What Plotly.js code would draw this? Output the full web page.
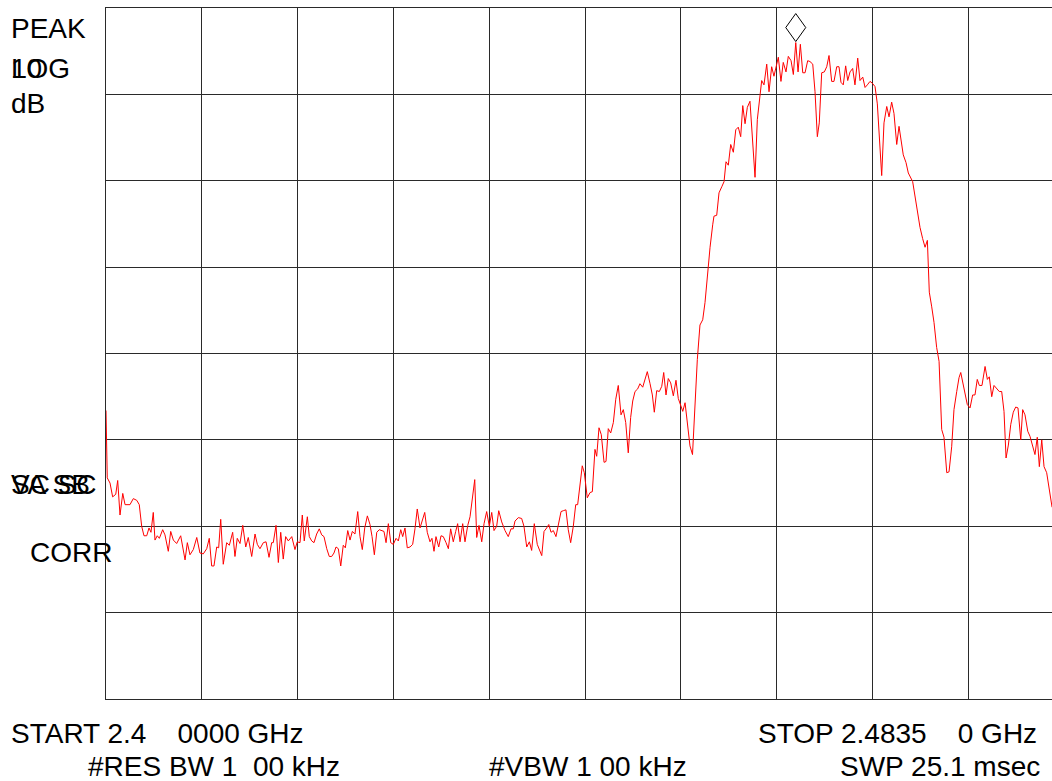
<!DOCTYPE html>
<html>
<head>
<meta charset="utf-8">
<script src="https://cdn.plot.ly/plotly-3.0.1.min.js"></script>
<style>
  html, body { margin: 0; padding: 0; background: #fff; overflow: hidden; }
  #plot { width: 1064px; height: 781px; }
</style>
</head>
<body>
<div id="plot"></div>
<script>
// Sweep: 2.4000 GHz to 2.4835 GHz, reference level at top, 10 dB/div
const startMHz = 2400.0;
const stopMHz = 2483.5;
const refLevelDb = 0;
const dbPerDiv = 10;
const numDivX = 10;
const numDivY = 8;

// Trace samples: frequency (MHz) and level (dB)
const freqMHz = [
  2400.00, 2400.11, 2400.35, 2400.58, 2400.85, 2401.02, 2401.22, 2401.46, 2401.66, 2402.09,
  2402.38, 2402.68, 2402.90, 2403.11, 2403.31, 2403.55, 2403.75, 2403.92, 2404.12, 2404.27,
  2404.47, 2404.65, 2404.94, 2405.14, 2405.43, 2405.64, 2405.87, 2406.16, 2406.51, 2406.89,
  2407.09, 2407.32, 2407.61, 2407.91, 2408.19, 2408.48, 2408.78, 2409.00, 2409.21, 2409.41,
  2409.65, 2409.82, 2410.00, 2410.22, 2410.52, 2410.75, 2411.04, 2411.24, 2411.44, 2411.68,
  2411.92, 2412.18, 2412.40, 2412.70, 2412.99, 2413.19, 2413.42, 2413.71, 2413.95, 2414.21,
  2414.44, 2414.58, 2414.82, 2415.02, 2415.23, 2415.45, 2415.66, 2415.89, 2416.19, 2416.47,
  2416.67, 2416.91, 2417.11, 2417.28, 2417.55, 2417.72, 2417.93, 2418.13, 2418.36, 2418.59,
  2418.80, 2419.00, 2419.24, 2419.46, 2419.67, 2419.87, 2420.05, 2420.25, 2420.46, 2420.68,
  2420.86, 2421.07, 2421.27, 2421.47, 2421.70, 2421.94, 2422.14, 2422.34, 2422.55, 2422.78,
  2423.01, 2423.19, 2423.39, 2423.60, 2423.82, 2424.06, 2424.23, 2424.41, 2424.61, 2424.82,
  2425.04, 2425.28, 2425.48, 2425.69, 2425.86, 2426.06, 2426.26, 2426.50, 2426.73, 2426.93,
  2427.13, 2427.37, 2427.57, 2427.78, 2428.00, 2428.24, 2428.41, 2428.59, 2428.76, 2429.00,
  2429.20, 2429.40, 2429.64, 2429.84, 2430.04, 2430.27, 2430.48, 2430.65, 2430.86, 2431.09,
  2431.29, 2431.53, 2431.73, 2431.93, 2432.14, 2432.31, 2432.51, 2432.75, 2432.95, 2433.18,
  2433.41, 2433.62, 2433.82, 2434.05, 2434.23, 2434.49, 2434.78, 2435.06, 2435.30, 2435.50,
  2435.65, 2435.94, 2436.23, 2436.43, 2436.67, 2436.90, 2437.10, 2437.33, 2437.59, 2437.98,
  2438.18, 2438.41, 2438.59, 2438.79, 2438.99, 2439.22, 2439.48, 2439.66, 2439.86, 2440.09,
  2440.29, 2440.50, 2440.73, 2440.94, 2441.11, 2441.31, 2441.51, 2441.69, 2441.95, 2442.19,
  2442.39, 2442.62, 2442.77, 2442.97, 2443.17, 2443.41, 2443.58, 2443.78, 2443.99, 2444.22,
  2444.43, 2444.65, 2444.89, 2445.09, 2445.30, 2445.52, 2445.73, 2445.91, 2446.11, 2446.34,
  2446.54, 2446.78, 2446.98, 2447.18, 2447.42, 2447.62, 2447.79, 2448.00, 2448.23, 2448.44,
  2448.61, 2448.81, 2449.01, 2449.22, 2449.45, 2449.68, 2449.88, 2450.09, 2450.27, 2450.47,
  2450.67, 2450.90, 2451.12, 2451.34, 2451.54, 2451.77, 2452.01, 2452.21, 2452.41, 2452.65,
  2452.88, 2452.99, 2453.23, 2453.43, 2453.67, 2453.87, 2454.04, 2454.24, 2454.45, 2454.68,
  2454.89, 2455.11, 2455.32, 2455.50, 2455.70, 2455.90, 2456.13, 2456.33, 2456.57, 2456.77,
  2456.94, 2457.15, 2457.35, 2457.59, 2457.79, 2458.02, 2458.22, 2458.40, 2458.60, 2458.83,
  2459.03, 2459.27, 2459.47, 2459.71, 2459.91, 2460.12, 2460.32, 2460.52, 2460.73, 2460.93,
  2461.16, 2461.36, 2461.60, 2461.80, 2462.00, 2462.17, 2462.38, 2462.61, 2462.82, 2463.02,
  2463.25, 2463.45, 2463.69, 2463.89, 2464.06, 2464.26, 2464.47, 2464.65, 2464.85, 2465.08,
  2465.28, 2465.52, 2465.72, 2465.96, 2466.16, 2466.36, 2466.59, 2466.79, 2467.03, 2467.23,
  2467.40, 2467.61, 2467.81, 2468.05, 2468.25, 2468.48, 2468.68, 2468.92, 2469.12, 2469.35,
  2469.49, 2469.73, 2469.93, 2470.31, 2470.51, 2470.71, 2470.95, 2471.18, 2471.39, 2471.59,
  2471.76, 2471.97, 2472.17, 2472.40, 2472.61, 2472.84, 2473.04, 2473.28, 2473.48, 2473.71,
  2473.91, 2474.15, 2474.35, 2474.50, 2474.67, 2474.87, 2475.07, 2475.31, 2475.54, 2475.74,
  2475.94, 2476.12, 2476.35, 2476.62, 2476.82, 2476.99, 2477.20, 2477.40, 2477.64, 2477.86,
  2478.07, 2478.27, 2478.45, 2478.65, 2478.86, 2479.08, 2479.29, 2479.49, 2479.73, 2479.90,
  2480.10, 2480.34, 2480.54, 2480.77, 2480.97, 2481.17, 2481.35, 2481.56, 2481.76, 2481.99,
  2482.22, 2482.46
];

const levelDb = [
  -46.6, -54.4, -55.0, -56.6, -56.3, -54.7, -58.7, -56.2, -57.5, -57.5,
  -56.8, -57.0, -57.5, -60.0, -61.1, -61.1, -60.2, -60.7, -58.4, -61.6,
  -61.1, -61.4, -60.4, -61.0, -62.9, -60.6, -61.6, -62.0, -61.1, -63.9,
  -61.9, -63.3, -62.7, -61.3, -63.1, -63.2, -62.6, -61.4, -64.6, -64.6,
  -62.4, -62.5, -59.2, -64.4, -61.9, -62.2, -60.7, -63.5, -61.4, -62.0,
  -59.9, -62.4, -61.3, -63.5, -60.9, -62.1, -62.6, -61.9, -61.8, -63.6,
  -61.9, -61.9, -59.9, -64.2, -60.7, -63.8, -61.2, -61.7, -61.2, -62.7,
  -61.8, -61.9, -58.7, -61.7, -58.9, -61.2, -61.7, -61.9, -60.9, -60.3,
  -61.0, -61.2, -62.6, -63.5, -63.5, -63.1, -62.4, -62.6, -64.6, -62.2,
  -62.5, -60.5, -61.6, -60.6, -60.9, -58.3, -61.2, -62.7, -60.2, -58.8,
  -59.8, -61.2, -63.3, -60.7, -60.4, -60.5, -60.6, -61.9, -59.7, -61.9,
  -62.1, -61.4, -61.7, -60.4, -61.2, -60.2, -62.5, -62.4, -62.1, -60.3,
  -58.0, -60.2, -59.2, -58.4, -60.7, -61.8, -61.4, -62.9, -61.2, -62.4,
  -61.1, -61.2, -61.9, -62.6, -60.3, -61.8, -60.6, -59.7, -61.8, -59.7,
  -61.8, -59.9, -58.9, -56.9, -54.6, -61.3, -59.9, -61.8, -59.7, -58.3,
  -60.0, -58.4, -60.5, -60.0, -58.2, -59.5, -60.5, -61.2, -60.3, -60.3,
  -59.4, -59.0, -59.1, -60.0, -62.4, -61.8, -62.8, -59.7, -62.1, -63.4,
  -60.6, -60.2, -59.8, -60.7, -60.5, -61.2, -59.5, -58.3, -58.2, -58.1,
  -60.4, -61.9, -60.0, -57.5, -57.5, -55.0, -53.0, -53.8, -56.7, -56.1,
  -56.0, -51.1, -51.9, -48.6, -49.4, -52.6, -52.5, -48.7, -49.2, -48.0,
  -45.3, -43.7, -47.1, -46.5, -48.0, -51.5, -47.4, -45.5, -44.4, -44.1,
  -43.5, -43.9, -43.0, -42.1, -43.5, -44.8, -46.8, -44.3, -44.4, -43.8,
  -42.2, -44.8, -42.9, -43.4, -44.9, -43.1, -45.2, -45.9, -46.7, -45.7,
  -47.9, -50.7, -51.7, -45.3, -40.7, -36.7, -36.1, -34.1, -30.9, -27.7,
  -25.1, -24.1, -24.0, -21.4, -20.7, -20.1, -17.8, -18.2, -15.8, -16.7,
  -14.1, -13.8, -14.9, -11.3, -13.4, -11.5, -10.8, -15.2, -19.6, -12.9,
  -10.8, -8.4, -8.9, -6.5, -9.7, -6.8, -7.9, -6.8, -5.7, -8.5,
  -6.3, -7.4, -5.6, -6.1, -7.7, -4.0, -7.4, -4.2, -7.5, -7.5,
  -6.1, -6.2, -6.5, -9.7, -14.9, -13.3, -7.5, -7.4, -6.8, -5.5,
  -8.5, -8.5, -6.8, -6.8, -8.6, -8.9, -6.7, -8.4, -7.4, -7.0,
  -8.9, -5.8, -8.4, -8.0, -9.2, -8.9, -8.5, -8.7, -9.1, -11.1,
  -15.0, -19.4, -13.3, -11.4, -12.6, -10.9, -12.2, -15.8, -13.7, -16.0,
  -17.0, -17.9, -19.1, -20.1, -21.8, -23.9, -25.4, -26.7, -27.7, -26.9,
  -32.9, -34.6, -36.4, -39.3, -40.9, -48.8, -49.7, -53.8, -53.7, -50.8,
  -46.5, -44.4, -42.8, -42.2, -43.3, -44.8, -45.9, -46.3, -44.8, -44.8,
  -43.0, -43.7, -43.7, -41.5, -43.0, -42.7, -45.0, -43.7, -44.1, -44.4,
  -44.4, -46.7, -52.1, -50.6, -48.2, -46.8, -46.2, -46.3, -50.0, -46.5,
  -47.1, -49.0, -49.6, -50.8, -51.7, -49.7, -53.1, -50.0, -53.1, -53.8,
  -55.8, -57.8
];

// Screen annotations of the analyzer (overprinted pairs share a position)
const screenLabels = [
  { text: 'PEAK', x: 10, y: 28 },
  { text: 'LOG', x: 10, y: 68 },
  { text: '10', x: 10, y: 68 },
  { text: 'dB', x: 10, y: 103 },
  { text: 'VA SB', x: 10, y: 484 },
  { text: 'SC SC', x: 10, y: 484 },
  { text: 'CORR', x: 29, y: 552 },
  { text: 'START 2.4\u00a0\u00a0\u00a0\u00a00000 GHz', x: 10, y: 733 },
  { text: 'STOP 2.4835\u00a0\u00a0\u00a0\u00a00 GHz', x: 757, y: 733 },
  { text: '#RES BW 1\u00a0\u00a000 kHz', x: 87, y: 767 },
  { text: '#VBW 1 00 kHz', x: 488, y: 767 },
  { text: 'SWP 25.1 msec', x: 839, y: 767 }
];

const W = 1064, H = 781;
const M = { l: 106, r: 0, t: 8, b: 82 };
const plotW = W - M.l - M.r;
const plotH = H - M.t - M.b;
const FONT = 'Liberation Sans, Arial, sans-serif';

// Screen pixel -> paper fraction for the text overlay
function paperX(px) { return (px - M.l) / plotW; }
function paperY(py) { return (M.t + plotH - py) / plotH; }

const annotations = screenLabels.map(l => ({
  text: l.text,
  xref: 'paper', yref: 'paper',
  x: paperX(l.x), y: paperY(l.y),
  xanchor: 'left', yanchor: 'middle',
  showarrow: false,
  borderpad: 0,
  font: { family: FONT, size: 28, color: '#000' }
}));

// Marker sits on the highest point of the trace
let peakIdx = 0;
for (let i = 1; i < levelDb.length; i++) if (levelDb[i] > levelDb[peakIdx]) peakIdx = i;

const marker = {
  type: 'path',
  xref: 'x', yref: 'y',
  xsizemode: 'pixel', ysizemode: 'pixel',
  xanchor: freqMHz[peakIdx], yanchor: levelDb[peakIdx],
  path: 'M0,1 L10,15 L0,29 L-10,15 Z',
  line: { color: '#000', width: 1 },
  fillcolor: 'rgba(0,0,0,0)'
};

const gridColor = '#2a2a2a';

const trace = {
  type: 'scatter',
  mode: 'lines',
  x: freqMHz,
  y: levelDb,
  line: { color: '#ff0000', width: 1 },
  hoverinfo: 'skip'
};

const layout = {
  width: W, height: H,
  margin: M,
  paper_bgcolor: '#fff',
  plot_bgcolor: '#fff',
  showlegend: false,
  xaxis: {
    range: [startMHz, stopMHz],
    tick0: startMHz,
    dtick: (stopMHz - startMHz) / numDivX,
    showticklabels: false,
    ticks: '',
    showgrid: true, gridcolor: gridColor, gridwidth: 1,
    zeroline: false,
    showline: true, linecolor: gridColor, linewidth: 1, mirror: true
  },
  yaxis: {
    range: [refLevelDb - dbPerDiv * numDivY, refLevelDb],
    tick0: refLevelDb,
    dtick: dbPerDiv,
    showticklabels: false,
    ticks: '',
    showgrid: true, gridcolor: gridColor, gridwidth: 1,
    zeroline: false,
    showline: true, linecolor: gridColor, linewidth: 1, mirror: true
  },
  shapes: [marker],
  annotations: annotations
};

Plotly.newPlot('plot', [trace], layout, { staticPlot: true, displayModeBar: false });
</script>
</body>
</html>
